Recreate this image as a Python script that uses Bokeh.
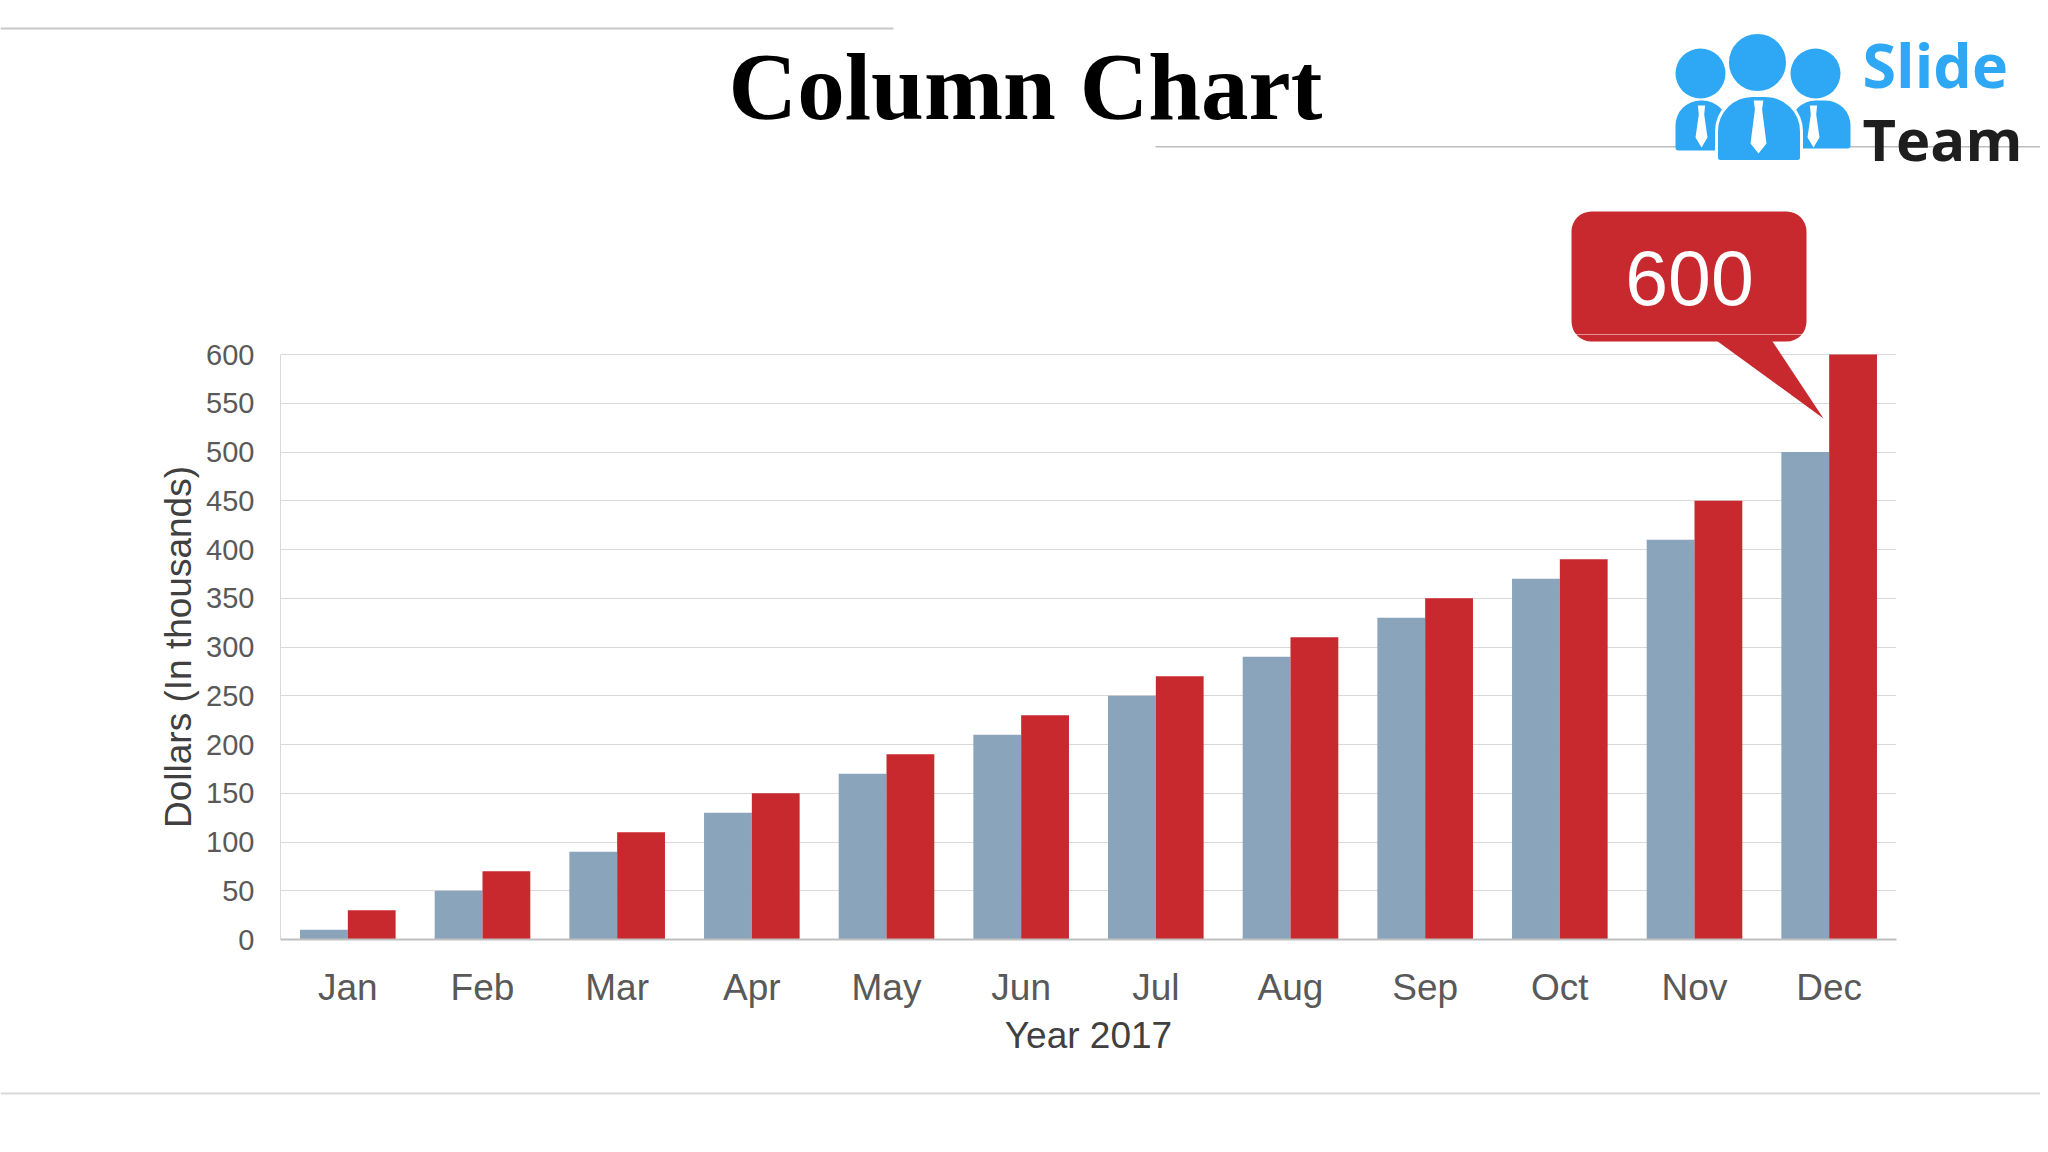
import math
from bokeh.plotting import figure
from bokeh.layouts import column, row
from bokeh.models import Range1d, FixedTicker, ColumnDataSource
from bokeh.core.properties import value
from bokeh.embed import file_html
from bokeh.resources import INLINE

# ---------------- data ----------------
months = ["Jan", "Feb", "Mar", "Apr", "May", "Jun", "Jul", "Aug", "Sep", "Oct", "Nov", "Dec"]
series_blue = [10, 50, 90, 130, 170, 210, 250, 290, 330, 370, 410, 500]
series_red = [30, 70, 110, 150, 190, 230, 270, 310, 350, 390, 450, 600]
y_ticks = [0, 50, 100, 150, 200, 250, 300, 350, 400, 450, 500, 550, 600]
y_max = 600
callout_value = 600
title_text = "Column Chart"
x_title = "Year 2017"
y_title = "Dollars (In thousands)"

BLUE = "#8AA5BB"
RED = "#C8292E"
LOGO_BLUE = "#2EA8F4"
FONT = "Liberation Sans"

W = 2040
# page layout (pixels)
HEAD_H = 334          # header strip height (chart frame starts here)
LEFT_W = 200          # strip holding the y-axis title
PLOT_L, PLOT_R = 280, 1896
PLOT_TOP, PLOT_BOT = 354, 939   # y of max tick / zero line
CHART_BOTTOM = 1085
TOTAL_H = 1144

# callout geometry (page px)
BUBBLE = dict(left=1571, right=1806, top=211, bottom=341)
POINTER_X = [1709, 1768, 1823]
POINTER_Y = [335, 335, 418]

# ---------------- header ----------------
hdr = figure(width=W, height=HEAD_H, x_range=Range1d(0, W), y_range=Range1d(0, HEAD_H),
             output_backend="svg", toolbar_location=None, x_axis_type=None, y_axis_type=None,
             min_border=0, outline_line_color=None, frame_align=False)
hdr.grid.visible = False

def hy(py):
    return HEAD_H - py

hdr.quad(left=[0, 1155], right=[893, W], top=[hy(27), hy(145.5)], bottom=[hy(29), hy(147)],
         fill_color=["#C8C8C8", "#BDBDBD"], line_color=None)
hdr.text(x=[1025], y=[hy(86)], text=[title_text], text_align="center", text_baseline="middle",
         text_font=value("Liberation Serif"), text_font_style="bold",
         text_font_size=value("95px"), text_color="#000000")

side_r = (25, 25, 3, 3)
hdr.quad(left=[1675, 1790], right=[1727, 1850], top=[hy(100), hy(100)], bottom=[hy(150), hy(148)],
         fill_color=LOGO_BLUE, line_color=None, border_radius=side_r)
hdr.circle(x=[1700, 1815], y=[hy(73), hy(73)], radius=25, fill_color=LOGO_BLUE, line_color=None)
hdr.quad(left=[1716], right=[1801], top=[hy(95)], bottom=[hy(161)], fill_color=LOGO_BLUE,
         line_color="white", line_width=3, border_radius=(36, 36, 4, 4))
hdr.circle(x=[1757], y=[hy(62)], radius=30, fill_color=LOGO_BLUE, line_color="white", line_width=3)
tie_xs, tie_ys = [], []
for cx, top, bot, hw in [(1701, 105, 147, 6), (1758, 100, 153, 8), (1813, 105, 147, 6)]:
    tie_xs.append([cx - hw * 0.6, cx + hw * 0.6, cx + hw * 0.45, cx + hw, cx, cx - hw, cx - hw * 0.45])
    tie_ys.append([hy(v) for v in [top, top, top + 9, bot - 10, bot, bot - 10, top + 9]])
hdr.patches(xs=tie_xs, ys=tie_ys, fill_color="white", line_color=None)
hdr.text(x=[1862], y=[hy(64)], text=["Slide"], text_align="left", text_baseline="middle",
         text_font=value("Open Sans"), text_font_style="bold", text_font_size=value("61px"),
         text_color=LOGO_BLUE)
hdr.text(x=[1862], y=[hy(138)], text=["Team"], text_align="left", text_baseline="middle",
         text_font=value("Open Sans"), text_font_style="bold", text_font_size=value("58px"),
         text_color="#1E1E1E")

# callout bubble (upper part)
hdr.patch(x=POINTER_X, y=[hy(v) for v in POINTER_Y], fill_color=RED, line_color=None)
hdr.quad(left=[BUBBLE["left"]], right=[BUBBLE["right"]], top=[hy(BUBBLE["top"])],
         bottom=[hy(BUBBLE["bottom"])], fill_color=RED, line_color=None, border_radius=20)
hdr.text(x=[(BUBBLE["left"] + BUBBLE["right"]) / 2 + 0.5], y=[hy(277)], text=[str(callout_value)],
         text_align="center", text_baseline="middle", text_font=value(FONT),
         text_font_size=value("77px"), text_color="white")

# ---------------- chart ----------------
n = len(months)
pos = list(range(1, n + 1))
BAR_W = 0.355
y_top = y_max * (PLOT_BOT - HEAD_H) / (PLOT_BOT - PLOT_TOP)
chart_h = CHART_BOTTOM - HEAD_H

p = figure(width=W - LEFT_W, height=chart_h, x_range=Range1d(0.5, n + 0.5), y_range=Range1d(0, y_top),
           output_backend="svg", toolbar_location=None, frame_align=False,
           min_border_left=PLOT_L - LEFT_W, min_border_right=W - PLOT_R,
           min_border_top=0, min_border_bottom=CHART_BOTTOM - PLOT_BOT)
p.outline_line_color = None

def dx(px):
    return 0.5 + (px - PLOT_L) / (PLOT_R - PLOT_L) * n

def dy(py):
    return (PLOT_BOT - py) / (PLOT_BOT - PLOT_TOP) * y_max

src = ColumnDataSource(dict(x_blue=[x - BAR_W / 2 for x in pos], x_red=[x + BAR_W / 2 for x in pos],
                            blue=series_blue, red=series_red, month=months))
p.vbar(x="x_blue", top="blue", width=BAR_W, source=src, fill_color=BLUE, line_color=None)
p.vbar(x="x_red", top="red", width=BAR_W, source=src, fill_color=RED, line_color=None)

# callout (lower part, inside the plot area)
p.patch(x=[dx(v) for v in POINTER_X], y=[dy(v) for v in POINTER_Y], fill_color=RED, line_color=None)
p.quad(left=[dx(BUBBLE["left"])], right=[dx(BUBBLE["right"])], top=[dy(BUBBLE["top"])],
       bottom=[dy(BUBBLE["bottom"])], fill_color=RED, line_color=None, border_radius=20)

ticker = FixedTicker(ticks=y_ticks)
p.yaxis.ticker = ticker
p.ygrid.ticker = ticker
p.yaxis.bounds = (0, y_max)
p.xgrid.visible = False
p.ygrid.grid_line_color = "#D9D9D9"
p.ygrid.grid_line_width = 1

p.yaxis.axis_line_color = "#D9D9D9"
p.yaxis.major_tick_line_color = None
p.yaxis.minor_tick_line_color = None
p.yaxis.major_tick_out = 0
p.yaxis.major_tick_in = 0
p.yaxis.major_label_text_font = FONT
p.yaxis.major_label_text_font_size = "29px"
p.yaxis.major_label_text_color = "#595959"
p.yaxis.major_label_standoff = 26

p.xaxis.ticker = FixedTicker(ticks=pos)
p.xaxis.major_label_overrides = {x: m for x, m in zip(pos, months)}
p.xaxis.axis_line_color = "#BFBFBF"
p.xaxis.axis_line_width = 2
p.xaxis.major_tick_line_color = None
p.xaxis.minor_tick_line_color = None
p.xaxis.major_tick_out = 0
p.xaxis.major_tick_in = 0
p.xaxis.major_label_text_font = FONT
p.xaxis.major_label_text_font_size = "37px"
p.xaxis.major_label_text_color = "#595959"
p.xaxis.major_label_standoff = 27
p.xaxis.axis_label = x_title
p.xaxis.axis_label_text_font = FONT
p.xaxis.axis_label_text_font_size = "37px"
p.xaxis.axis_label_text_font_style = "normal"
p.xaxis.axis_label_text_color = "#404040"
p.xaxis.axis_label_standoff = 4

# ---------------- y-axis title strip ----------------
ls = figure(width=LEFT_W, height=chart_h, x_range=Range1d(0, LEFT_W), y_range=Range1d(0, chart_h),
            output_backend="svg", toolbar_location=None, x_axis_type=None, y_axis_type=None,
            min_border=0, outline_line_color=None, frame_align=False)
ls.grid.visible = False
ls.text(x=[178], y=[CHART_BOTTOM - (PLOT_TOP + PLOT_BOT) / 2], text=[y_title], angle=math.pi / 2,
        text_align="center", text_baseline="middle", text_font=value(FONT),
        text_font_size=value("37px"), text_color="#404040")

# ---------------- footer ----------------
foot_h = TOTAL_H - CHART_BOTTOM
ftr = figure(width=W, height=foot_h, x_range=Range1d(0, W), y_range=Range1d(0, foot_h),
             output_backend="svg", toolbar_location=None, x_axis_type=None, y_axis_type=None,
             min_border=0, outline_line_color=None, frame_align=False)
ftr.grid.visible = False
ftr.quad(left=[0], right=[W], top=[foot_h - (1092 - CHART_BOTTOM)], bottom=[foot_h - (1094 - CHART_BOTTOM)],
         fill_color="#D9D9D9", line_color=None)

layout = column(hdr, row(ls, p, spacing=0), ftr, spacing=0)
open("out.html", "w").write(file_html(layout, INLINE))
